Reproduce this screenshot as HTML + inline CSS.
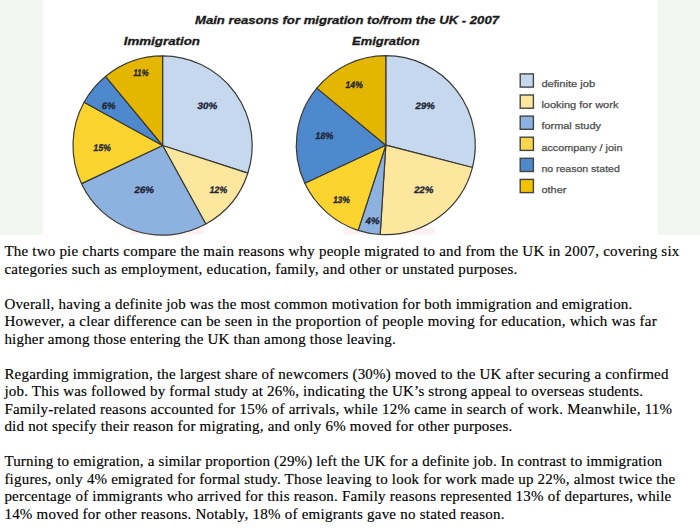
<!DOCTYPE html>
<html><head><meta charset="utf-8">
<style>
html,body{margin:0;padding:0;background:#fff;}
body{width:700px;height:528px;overflow:hidden;position:relative;}
#img{position:absolute;left:0;top:0;width:700px;height:234.5px;background:#f3f7f1;}
#panel{position:absolute;left:42.5px;top:0;width:615px;height:234.5px;background:#fff;}
svg{position:absolute;left:0;top:0;}
#txt{position:absolute;left:4.4px;top:243.2px;width:695px;font-family:"Liberation Serif",serif;font-size:15.0px;line-height:17.5px;color:#000;-webkit-text-stroke:0.15px #000;}
#txt p{margin:0;white-space:nowrap;}
#txt p.gap{height:17.5px;}
</style></head><body>
<div id="img"></div>
<div id="panel"></div>
<svg width="700" height="240" viewBox="0 0 700 240">
<rect x="130" y="228" width="73" height="6.5" fill="#fcf1f0"/><rect x="343.7" y="227.7" width="91" height="6.8" fill="#fcf1f0"/>
<g stroke="#3a3a34" stroke-width="1.2" stroke-linejoin="round">
<path d="M162.6,145.5 L162.60,55.90 A89.6,89.6 0 0 1 247.81,173.19 Z" fill="#c5d8ee"/>
<path d="M162.6,145.5 L247.81,173.19 A89.6,89.6 0 0 1 205.77,224.02 Z" fill="#fde79e"/>
<path d="M162.6,145.5 L205.77,224.02 A89.6,89.6 0 0 1 81.53,183.65 Z" fill="#8db2df"/>
<path d="M162.6,145.5 L81.53,183.65 A89.6,89.6 0 0 1 84.08,102.33 Z" fill="#fbd430"/>
<path d="M162.6,145.5 L84.08,102.33 A89.6,89.6 0 0 1 105.49,76.46 Z" fill="#4e89ce"/>
<path d="M162.6,145.5 L105.49,76.46 A89.6,89.6 0 0 1 162.60,55.90 Z" fill="#e5b600"/>

<path d="M385.8,145.2 L385.80,55.70 A89.5,89.5 0 0 1 472.49,167.46 Z" fill="#c5d8ee"/>
<path d="M385.8,145.2 L472.49,167.46 A89.5,89.5 0 0 1 380.18,234.52 Z" fill="#fde79e"/>
<path d="M385.8,145.2 L380.18,234.52 A89.5,89.5 0 0 1 358.14,230.32 Z" fill="#8db2df"/>
<path d="M385.8,145.2 L358.14,230.32 A89.5,89.5 0 0 1 304.82,183.31 Z" fill="#fbd430"/>
<path d="M385.8,145.2 L304.82,183.31 A89.5,89.5 0 0 1 316.84,88.15 Z" fill="#4e89ce"/>
<path d="M385.8,145.2 L316.84,88.15 A89.5,89.5 0 0 1 385.80,55.70 Z" fill="#e5b600"/>

</g>
<g font-family="Liberation Sans" font-weight="bold" font-size="9.4" fill="#1f2738" stroke="#1f2738" stroke-width="0.35" text-anchor="middle">
<text transform="translate(140.5,75.7) skewX(-9)" x="0" y="0" textLength="15" lengthAdjust="spacingAndGlyphs">11%</text>
<text transform="translate(108.2,108.9) skewX(-9)" x="0" y="0" textLength="13.6" lengthAdjust="spacingAndGlyphs">6%</text>
<text transform="translate(207,108.9) skewX(-9)" x="0" y="0" textLength="20" lengthAdjust="spacingAndGlyphs">30%</text>
<text transform="translate(101.7,150.9) skewX(-9)" x="0" y="0" textLength="17.2" lengthAdjust="spacingAndGlyphs">15%</text>
<text transform="translate(143.75,192.5) skewX(-9)" x="0" y="0" textLength="19.7" lengthAdjust="spacingAndGlyphs">26%</text>
<text transform="translate(218,192.6) skewX(-9)" x="0" y="0" textLength="17.5" lengthAdjust="spacingAndGlyphs">12%</text>
<text transform="translate(353.7,87.7) skewX(-9)" x="0" y="0" textLength="17.4" lengthAdjust="spacingAndGlyphs">14%</text>
<text transform="translate(424.7,108.9) skewX(-9)" x="0" y="0" textLength="19.4" lengthAdjust="spacingAndGlyphs">29%</text>
<text transform="translate(324,139.1) skewX(-9)" x="0" y="0" textLength="18" lengthAdjust="spacingAndGlyphs">18%</text>
<text transform="translate(423.35,192.9) skewX(-9)" x="0" y="0" textLength="19.1" lengthAdjust="spacingAndGlyphs">22%</text>
<text transform="translate(341,202.9) skewX(-9)" x="0" y="0" textLength="16.7" lengthAdjust="spacingAndGlyphs">13%</text>
<text transform="translate(372,223.9) skewX(-9)" x="0" y="0" textLength="13.9" lengthAdjust="spacingAndGlyphs">4%</text>
</g>
<g font-family="Liberation Sans" font-weight="bold" font-style="italic" fill="#1a1a1a" stroke="#1a1a1a" stroke-width="0.3" font-size="11.2">
<text x="195" y="24" textLength="304" lengthAdjust="spacingAndGlyphs">Main reasons for migration to/from the UK - 2007</text>
<text x="123.7" y="45" textLength="76.3" lengthAdjust="spacingAndGlyphs">Immigration</text>
<text x="352.1" y="45" textLength="67.6" lengthAdjust="spacingAndGlyphs">Emigration</text>
</g>
<g stroke="#444" stroke-width="1.4">
<rect x="520.2" y="73.9" width="13.2" height="13.2" fill="#c5d8ee"/>
<rect x="520.2" y="95.0" width="13.2" height="13.2" fill="#fde79e"/>
<rect x="520.2" y="116.1" width="13.2" height="13.2" fill="#8db2df"/>
<rect x="520.2" y="137.2" width="13.2" height="13.2" fill="#f9d64e"/>
<rect x="520.2" y="158.3" width="13.2" height="13.2" fill="#4e89ce"/>
<rect x="520.2" y="179.4" width="13.2" height="13.2" fill="#f3c300"/>
</g>
<g font-family="Liberation Sans" font-size="9.6" fill="#4e4e4e" stroke="#4e4e4e" stroke-width="0.25">
<text x="541.4" y="87.2" textLength="53.8" lengthAdjust="spacingAndGlyphs">definite job</text>
<text x="541.4" y="108.3" textLength="77" lengthAdjust="spacingAndGlyphs">looking for work</text>
<text x="541.4" y="129.4" textLength="59.6" lengthAdjust="spacingAndGlyphs">formal study</text>
<text x="541.4" y="150.5" textLength="81" lengthAdjust="spacingAndGlyphs">accompany / join</text>
<text x="541.4" y="171.6" textLength="78.4" lengthAdjust="spacingAndGlyphs">no reason stated</text>
<text x="541.4" y="192.7" textLength="25" lengthAdjust="spacingAndGlyphs">other</text>
</g>
</svg>
<div id="txt">
<p style="letter-spacing:0.2111px">The two pie charts compare the main reasons why people migrated to and from the UK in 2007, covering six</p>
<p style="letter-spacing:0.2480px">categories such as employment, education, family, and other or unstated purposes.</p>
<p class="gap"></p>
<p style="letter-spacing:0.1771px">Overall, having a definite job was the most common motivation for both immigration and emigration.</p>
<p style="letter-spacing:0.2420px">However, a clear difference can be seen in the proportion of people moving for education, which was far</p>
<p style="letter-spacing:0.1928px">higher among those entering the UK than among those leaving.</p>
<p class="gap"></p>
<p style="letter-spacing:0.2021px">Regarding immigration, the largest share of newcomers (30%) moved to the UK after securing a confirmed</p>
<p style="letter-spacing:0.2012px">job. This was followed by formal study at 26%, indicating the UK’s strong appeal to overseas students.</p>
<p style="letter-spacing:0.2325px">Family-related reasons accounted for 15% of arrivals, while 12% came in search of work. Meanwhile, 11%</p>
<p style="letter-spacing:0.2095px">did not specify their reason for migrating, and only 6% moved for other purposes.</p>
<p class="gap"></p>
<p style="letter-spacing:0.1679px">Turning to emigration, a similar proportion (29%) left the UK for a definite job. In contrast to immigration</p>
<p style="letter-spacing:0.2086px">figures, only 4% emigrated for formal study. Those leaving to look for work made up 22%, almost twice the</p>
<p style="letter-spacing:0.2125px">percentage of immigrants who arrived for this reason. Family reasons represented 13% of departures, while</p>
<p style="letter-spacing:0.2407px">14% moved for other reasons. Notably, 18% of emigrants gave no stated reason.</p>
</div>
</body></html>
